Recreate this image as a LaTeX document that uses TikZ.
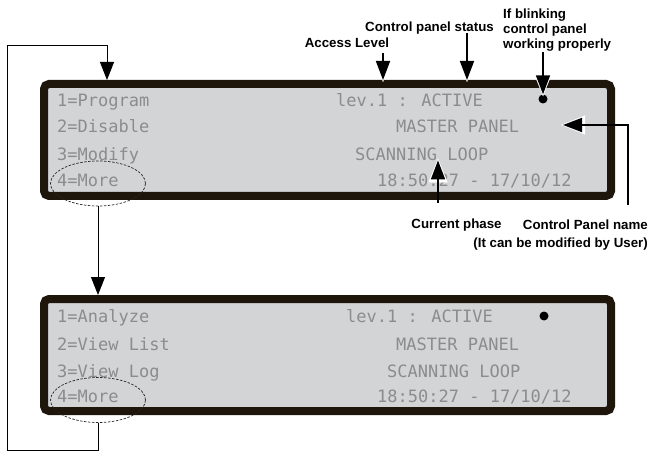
\documentclass[tikz,border=0pt]{standalone}
\usepackage{fontspec}
\setmainfont{Liberation Sans}
\newfontfamily\lcdfont{DejaVu Sans Mono}
\usetikzlibrary{arrows.meta,shapes.geometric,calc}
\definecolor{framec}{HTML}{1E150B}
\definecolor{lcdbg}{HTML}{D3D4D6}
\definecolor{lcdtxt}{HTML}{8C8C8C}
\tikzset{
 panel/.style={draw=framec, fill=lcdbg, line width=8pt, rounded corners=5pt, minimum width=567pt, minimum height=112pt, inner sep=0pt},
 lcd/.style={font=\lcdfont\fontsize{17}{17}\selectfont, text=lcdtxt, anchor=west, inner sep=0pt, text height=12.4pt, text depth=0pt},
 lab/.style={font=\bfseries\fontsize{13.3}{15}\selectfont, inner sep=0pt, text height=9.5pt, text depth=0pt},
 labm/.style={font=\bfseries\fontsize{13.3}{15}\selectfont, inner sep=0pt},
 sel/.style={ellipse, draw=black!85, dash pattern=on 2.5pt off 1.5pt, line width=0.7pt, minimum width=95pt, minimum height=45pt, inner sep=0pt},
 loopline/.style={line width=1pt, -{Triangle[width=14pt,length=18pt]}},
 ann/.style={line width=1.6pt, -{Triangle[width=14pt,length=19pt]}, preaction={draw=white, line width=0.1pt, shorten >=-2pt, -{Triangle[width=19pt,length=24pt]}}},
 blink/.style={circle, fill=black, minimum size=9pt, inner sep=0pt}
}
\begin{document}
\begin{tikzpicture}[x=1pt,y=-1pt]
\useasboundingbox (0,0) rectangle (650,454);
% panels
\node[panel] (p1) at (327.5,140) {};
\node[panel] (p2) at (327.5,355) {};
% top panel texts
\node[lcd] (a1) at (57,100) {1=Program};
\node[lcd] (a2) at (57,126) {2=Disable};
\node[lcd] (a3) at (57,154) {3=Modify};
\node[lcd] (a4) at (57,180) {4=More};
\node[lcd] (b1) at (336,100) {lev.1 : ACTIVE};
\node[lcd] (b2) at (396,126) {MASTER PANEL};
\node[lcd] (b3) at (355,154) {SCANNING LOOP};
\node[lcd] (b4) at (377,180) {18:50:27 - 17/10/12};
\node[blink] (dot1) at (543,99) {};
% bottom panel texts
\node[lcd] (c1) at (57,316) {1=Analyze};
\node[lcd] (c2) at (57,344) {2=View List};
\node[lcd] (c3) at (57,371) {3=View Log};
\node[lcd] (c4) at (57,396) {4=More};
\node[lcd] (d1) at (346,316) {lev.1 : ACTIVE};
\node[lcd] (d2) at (396,344) {MASTER PANEL};
\node[lcd] (d3) at (387,371) {SCANNING LOOP};
\node[lcd] (d4) at (377,396) {18:50:27 - 17/10/12};
\node[blink] (dot2) at (544,316) {};
% selection ellipses
\node[sel] (e1) at (98,183.5) {};
\node[sel] (e2) at (98,400) {};
% loop connectors
\coordinate (lb) at (7,450);
\coordinate (lt) at (7,46);
\coordinate (x107) at (107,0);
\draw[loopline] (e2.south) |- (lb) -- (lt) -| (p1.north -| x107);
\draw[loopline] (e1.south) -- (p2.north -| e1.south);
% annotation labels
\node[lab, inner ysep=5.25pt] (accl) at (347,43) {Access Level};
\node[lab, inner ysep=1.25pt] (stat) at (429.5,27) {Control panel status};
\node[labm, align=left, anchor=north west, inner ysep=1pt] (blk) at (503,7.3) {If blinking\\control panel\\working properly};
\node[lab, outer ysep=16pt] (cph) at (456.5,224) {Current phase};
\node[labm, font=\bfseries\fontsize{13.3}{18}\selectfont, align=right, anchor=north east, outer ysep=14pt] (cpn) at (648,205.5) {Control Panel name\\(It can be modified by User)};
% annotation arrows
\coordinate (xa) at (383,0);
\coordinate (xs) at (467,0);
\coordinate (xc) at (438,0);
\coordinate (xn) at (628,0);
\coordinate (tn) at (563,125);
\draw[ann] (accl.south -| xa) -- (p1.north -| xa);
\draw[ann] (stat.south -| xs) -- (p1.north -| xs);
\draw[ann] (blk.south -| dot1) -- (dot1.north);
\draw[ann] (cph.north -| xc) -- (b3.south -| xc);
\draw[ann] (cpn.north -| xn) |- (tn);
\end{tikzpicture}
\end{document}
